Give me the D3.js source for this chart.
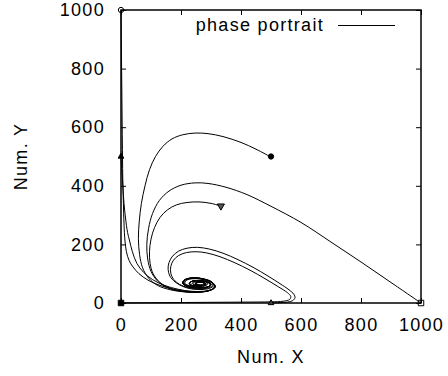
<!DOCTYPE html>
<html>
<head>
<meta charset="utf-8">
<script src="https://cdn.jsdelivr.net/npm/d3@7"></script>
<style>
  body { margin: 0; background: #fff; }
  svg text { font-family: "Liberation Sans", Arial, sans-serif; font-size: 18px; letter-spacing: 1.3px; fill: #000; }
</style>
</head>
<body>
<svg id="chart" width="448" height="376"></svg>
<script>
// tick values
const xTicks = [0, 200, 400, 600, 800, 1000];
const yTicks = [0, 200, 400, 600, 800, 1000];

// trajectories (Num. X, Num. Y)
const trajA = [[500,498],[450,525],[400,548],[340,568],[290,578],[247,580],[205,574],[170,560],[140,535],[115,500],[95,455],[80,400],[68,340],[61,280],[58,220],[62,165],[72,120],[92,85],[122,60],[165,45],[210,38],[255,37],[295,43],[315,55],[305,70],[275,82],[240,86],[213,80],[205,68],[220,57],[255,51],[290,55],[300,64],[285,73],[255,77],[232,72],[228,64],[245,58],[272,60],[282,66],[266,72],[248,69],[250,63],[262,63]];
const trajB = [[1000,0],[900,70],[800,140],[700,208],[600,275],[500,330],[420,370],[350,395],[290,408],[247,410],[200,402],[160,382],[128,350],[105,305],[92,255],[86,200],[89,150],[100,108],[122,75],[155,52],[200,40],[250,36],[290,41],[312,52],[308,67],[280,80],[245,86],[217,81],[207,70],[218,58],[250,52],[288,54],[300,63],[288,72],[258,77],[234,73],[228,65],[244,58],[270,59],[283,65],[268,71],[250,70],[249,64],[262,62]];
const trajC = [[333,331],[300,340],[260,345],[220,343],[185,335],[155,318],[130,292],[112,258],[100,218],[95,175],[97,135],[107,100],[128,72],[160,52],[205,40],[250,37],[292,42],[313,54],[306,68],[278,81],[243,86],[215,80],[206,69],[219,58],[252,52],[289,55],[299,64],[286,72],[257,77],[233,72],[229,64],[246,58],[271,60],[281,66],[266,71],[250,68],[252,63]];
const trajD = [[0,1000],[1,900],[2,800],[3,700],[4,600],[5,500],[6,420],[8,340],[10,270],[13,215],[18,175],[27,145],[40,123],[60,100],[90,78],[130,60],[175,47],[220,40],[262,38],[300,44],[314,56],[303,70],[272,82],[238,85],[212,79],[205,67],[222,56],[258,51],[292,56],[299,65],[283,73],[253,76],[231,71],[230,63],[248,58],[274,61],[280,67],[263,71],[249,67],[255,62]];
const trajE = [[0,500],[3,450],[6,400],[10,340],[15,290],[22,240],[28,215],[38,175],[53,135],[75,105],[105,80],[145,60],[190,47],[235,40],[275,40],[305,48],[311,60],[295,73],[262,83],[228,83],[208,75],[210,63],[235,54],[272,53],[296,59],[293,69],[268,76],[240,75],[227,68],[236,60],[262,58],[281,63],[274,70],[254,70],[247,65],[258,61]];
const trajF = [[500,0],[530,1],[555,3],[572,8],[580,18],[576,30],[560,45],[530,66],[490,92],[440,122],[390,148],[340,170],[295,184],[255,190],[220,187],[192,177],[172,160],[160,138],[157,115],[163,92],[180,72],[205,57],[235,48],[270,46],[300,52],[310,62],[300,74],[272,83],[240,85],[216,79],[210,68],[225,59],[257,56],[284,60],[290,68],[272,75],[247,74],[237,67],[248,61],[270,62],[275,68],[258,71],[252,66]];
const trajG = [[0,0],[100,1],[250,2],[400,3],[500,4],[540,6],[562,12],[566,22],[555,35],[525,55],[480,83],[430,112],[380,137],[330,158],[285,171],[250,175],[218,172],[192,162],[175,146],[166,125],[166,102],[176,80],[196,63],[225,52],[260,48],[292,52],[306,62],[298,73],[270,81],[240,83],[218,77],[213,67],[228,59],[258,57],[282,61],[287,68],[270,74],[247,72],[240,66],[252,61],[270,63]];
const trajectories = [trajA, trajB, trajC, trajD, trajE, trajF, trajG];

// start points and their marker
const starts = [
  {x: 0, y: 1000, sym: "circle", fill: "none"},
  {x: 500, y: 500, sym: "circle", fill: "#000"},
  {x: 333, y: 331, sym: "triangleDown", fill: "#555"},
  {x: 0, y: 500, sym: "triangle", fill: "#000"},
  {x: 500, y: 0, sym: "triangle", fill: "#444"},
  {x: 1000, y: 0, sym: "square", fill: "none"},
  {x: 0, y: 0, sym: "square", fill: "#000"}
];

const svg = d3.select("#chart");
const margin = {top: 10, right: 27, bottom: 73, left: 121};
const width = 448, height = 376;

const x = d3.scaleLinear().domain([0, 1000]).range([margin.left, width - margin.right]);
const y = d3.scaleLinear().domain([0, 1000]).range([height - margin.bottom, margin.top]);

const line = d3.line()
  .x(d => x(d[0]))
  .y(d => y(d[1]))
  .curve(d3.curveCatmullRom.alpha(0.5));

svg.append("g")
  .selectAll("path")
  .data(trajectories)
  .join("path")
  .attr("fill", "none")
  .attr("stroke", "#000")
  .attr("stroke-width", 1)
  .attr("d", line);

// axes with inward ticks on all four sides
const tick = 5;
const fmt = d3.format("d");
svg.append("g")
  .attr("transform", `translate(0,${y(0)})`)
  .call(d3.axisBottom(x).tickValues(xTicks).tickSize(-tick).tickPadding(tick + 10).tickFormat(fmt))
  .call(g => g.select(".domain").remove());
svg.append("g")
  .attr("transform", `translate(0,${y(1000)})`)
  .call(d3.axisTop(x).tickValues(xTicks).tickSize(-tick).tickFormat(""))
  .call(g => g.select(".domain").remove());
svg.append("g")
  .attr("transform", `translate(${x(0)},0)`)
  .call(d3.axisLeft(y).tickValues(yTicks).tickSize(-tick).tickPadding(tick + 11).tickFormat(fmt))
  .call(g => g.select(".domain").remove());
svg.append("g")
  .attr("transform", `translate(${x(1000)},0)`)
  .call(d3.axisRight(y).tickValues(yTicks).tickSize(-tick).tickFormat(""))
  .call(g => g.select(".domain").remove());

svg.selectAll(".tick line").attr("stroke", "#000");
svg.selectAll(".tick text")
  .attr("font-family", null).attr("font-size", null);

svg.append("rect")
  .attr("x", x(0)).attr("y", y(1000))
  .attr("width", x(1000) - x(0)).attr("height", y(0) - y(1000))
  .attr("fill", "none").attr("stroke", "#000").attr("stroke-width", 1.5);

// markers
const symTypes = {circle: d3.symbolCircle, square: d3.symbolSquare, triangle: d3.symbolTriangle, triangleDown: d3.symbolTriangle};
const symSize = {circle: 22, square: 30, triangle: 14, triangleDown: 22};
svg.append("g")
  .selectAll("path")
  .data(starts)
  .join("path")
  .attr("transform", d => `translate(${x(d.x)},${y(d.y)})` + (d.sym === "triangleDown" ? " rotate(180)" : ""))
  .attr("d", d => d3.symbol(symTypes[d.sym], symSize[d.sym])())
  .attr("fill", d => d.fill)
  .attr("stroke", "#000")
  .attr("stroke-width", 1);

// axis titles
svg.append("text")
  .attr("x", (x(0) + x(1000)) / 2)
  .attr("y", 363)
  .attr("text-anchor", "middle")
  .text("Num. X");
svg.append("text")
  .attr("transform", `translate(27,${(y(0) + y(1000)) / 2}) rotate(-90)`)
  .attr("text-anchor", "middle")
  .text("Num. Y");

// legend
svg.append("text")
  .attr("x", 324)
  .attr("y", 31)
  .attr("text-anchor", "end")
  .text("phase portrait");
svg.append("line")
  .attr("x1", 338).attr("x2", 395)
  .attr("y1", 25.5).attr("y2", 25.5)
  .attr("stroke", "#000").attr("stroke-width", 1);
</script>
</body>
</html>
